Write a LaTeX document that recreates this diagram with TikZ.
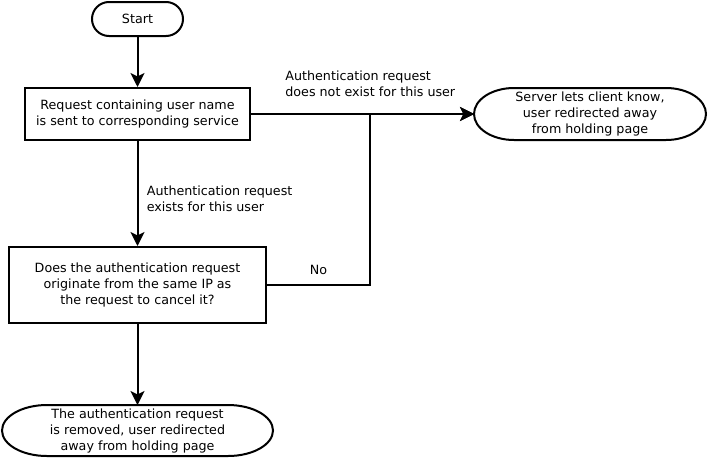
\documentclass[tikz,border=0pt]{standalone}
\usepackage{fontspec}
\setmainfont{DejaVu Sans}
\usepackage{tikz}
\usetikzlibrary{arrows.meta,positioning,shapes.misc}

\begin{document}
\begin{tikzpicture}[node distance=50pt, auto]
    % Styles
    \tikzstyle{txt} = [font=\fontsize{12.7}{16}\selectfont]
    \tikzstyle{block} = [rectangle, draw, line width=2pt, txt, align=center, inner sep=0pt]
    \tikzstyle{terminal} = [rounded rectangle, draw, line width=2pt, txt, align=center, inner sep=0pt]
    \tikzstyle{outcome} = [rectangle, txt, align=center, inner sep=0pt, outer sep=0pt]
    \tikzstyle{arrow} = [line width=2pt,->,>={Stealth[length=14pt,width=14pt,inset=3.5pt]}]
    \tikzstyle{ends} = [line width=2pt]

    \useasboundingbox (0,0) rectangle (708pt,-458pt);

    % Nodes - main column
    \node [terminal, minimum width=91pt, minimum height=34pt] at (137.5pt,-19pt) (start) {Start};
    \node [block, minimum width=225pt, minimum height=52pt, below=50pt of start] (send) {Request containing user name\\is sent to corresponding service};
    \node [block, minimum width=257pt, minimum height=76pt, below=105pt of send] (sameip) {Does the authentication request\\originate from the same IP as\\the request to cancel it?};
    \node [outcome, minimum width=271pt, minimum height=51pt, below=81pt of sameip] (removed) {The authentication request\\is removed, user redirected\\away from holding page};

    % Nodes - right side
    \node [outcome, minimum width=232pt, minimum height=52pt, right=223pt of send] (notify) {Server lets client know,\\user redirected away\\from holding page};
    \coordinate [right=119pt of send.east] (join);

    % Outlines of the two end nodes (flat ends)
    \draw[ends] ([xshift=45pt]removed.north west) -- ([xshift=-45pt]removed.north east)
        arc[start angle=90, end angle=-90, x radius=45pt, y radius=25.5pt]
        -- ([xshift=45pt]removed.south west)
        arc[start angle=270, end angle=90, x radius=45pt, y radius=25.5pt] -- cycle;
    \draw[ends] ([xshift=40pt]notify.north west) -- ([xshift=-40pt]notify.north east)
        arc[start angle=90, end angle=-90, x radius=40pt, y radius=26pt]
        -- ([xshift=40pt]notify.south west)
        arc[start angle=270, end angle=90, x radius=40pt, y radius=26pt] -- cycle;

    % Connectors
    \draw[arrow] (start) -- (send);
    \draw[arrow] (send) -- node[right=5pt, pos=0.55, txt, align=left] {Authentication request\\exists for this user} (sameip);
    \draw[arrow] (sameip) -- (removed);
    \draw[arrow, line width=1.5pt] (send.east) -- node[above=13pt, pos=0.535, txt, align=left] {Authentication request\\does not exist for this user} (notify.west);
    \draw[arrow] (sameip.east) -- node[above=6pt, txt] {No} (sameip.east -| join) -- (join) -- (notify.west);

\end{tikzpicture}
\end{document}
